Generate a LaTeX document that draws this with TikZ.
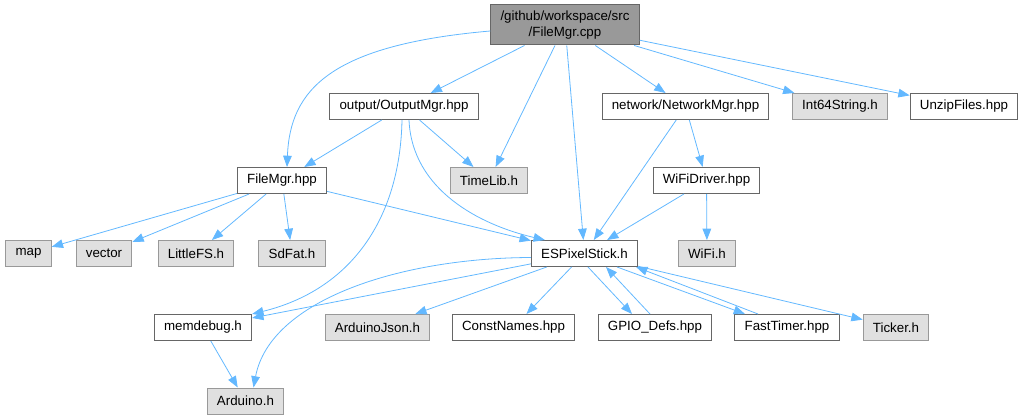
\documentclass[tikz,border=0pt]{standalone}
\usepackage{fontspec}
\setmainfont{Liberation Sans}
\usetikzlibrary{arrows.meta,calc}
\definecolor{edgeblue}{RGB}{99,184,255}
\definecolor{boxborder}{RGB}{102,102,102}
\definecolor{extborder}{RGB}{153,153,153}
\definecolor{extfill}{RGB}{224,224,224}
\definecolor{rootfill}{RGB}{153,153,153}

\begin{document}
\begin{tikzpicture}[x=0.75pt, y=-0.75pt,
    file/.style={draw=boxborder, fill=white, rectangle, line width=0.75pt, minimum height=19.5pt, inner xsep=7.3pt, inner ysep=0pt, font=\fontsize{10}{12}\selectfont},
    ext/.style={file, draw=extborder, fill=extfill},
    root/.style={file, fill=rootfill, align=center, minimum height=30pt},
    inc/.style={draw=edgeblue, line width=0.6pt, -{Triangle[length=8.5pt,width=6.5pt]}}]
    \useasboundingbox (0,0) rectangle (1023,420);

    % Root file
    \node[root] (root) at (565,25) {/github/workspace/src\\/FileMgr.cpp};

    % Second row
    \node[file] (outmgr) at (404,106.5) {output/OutputMgr.hpp};
    \node[file] (netmgr) at (685.5,106.5) {network/NetworkMgr.hpp};
    \node[ext] (int64) at (840,106.5) {Int64String.h};
    \node[file] (unzip) at (964,106.5) {UnzipFiles.hpp};

    % Third row
    \node[file] (filemgr) at (282,180.5) {FileMgr.hpp};
    \node[ext] (timelib) at (489,180.5) {TimeLib.h};
    \node[file] (wifidrv) at (706.5,180.5) {WiFiDriver.hpp};

    % Fourth row
    \node[ext] (map) at (28.5,253.5) {map};
    \node[ext] (vector) at (104,253.5) {vector};
    \node[ext] (littlefs) at (196,253.5) {LittleFS.h};
    \node[ext] (sdfat) at (292,253.5) {SdFat.h};
    \node[file] (esp) at (584.5,253.5) {ESPixelStick.h};
    \node[ext] (wifi) at (707,253.5) {WiFi.h};

    % Fifth row
    \node[file] (memdebug) at (203,327.5) {memdebug.h};
    \node[ext] (json) at (377.5,327.5) {ArduinoJson.h};
    \node[file] (constnames) at (513.5,327.5) {ConstNames.hpp};
    \node[file] (gpio) at (655,327.5) {GPIO\_Defs.hpp};
    \node[file] (fasttimer) at (787,327.5) {FastTimer.hpp};
    \node[ext] (ticker) at (896,327.5) {Ticker.h};

    % Bottom
    \node[ext] (arduino) at (245.5,401) {Arduino.h};

    % Includes of the root
    \draw[inc] ($(root.west)+(0,6)$) .. controls (330,45) and (290,90) .. ($(filemgr.north)+(5,0)$);
    \draw[inc] (root) -- (outmgr);
    \draw[inc] (root) -- (timelib);
    \draw[inc] (root) -- (esp);
    \draw[inc] (root) -- (netmgr);
    \draw[inc] (root) -- (int64);
    \draw[inc] (root) -- (unzip);

    % OutputMgr
    \draw[inc] (outmgr) -- (filemgr);
    \draw[inc] (outmgr) -- (timelib);
    \draw[inc] ($(outmgr.south)+(5,0)$) .. controls (412,190) and (480,225) .. ($(esp.north west)+(14,0)$);
    \draw[inc] ($(outmgr.south)+(-2,0)$) .. controls (400,220) and (350,290) .. (memdebug.north east);

    % FileMgr.hpp
    \draw[inc] (filemgr) -- (map);
    \draw[inc] (filemgr) -- (vector);
    \draw[inc] (filemgr) -- (littlefs);
    \draw[inc] (filemgr) -- (sdfat);
    \draw[inc] (filemgr) -- (esp);

    % Network
    \draw[inc] (netmgr) -- (esp);
    \draw[inc] (netmgr) -- (wifidrv);
    \draw[inc] (wifidrv) -- (esp);
    \draw[inc] (wifidrv) -- (wifi);

    % ESPixelStick.h
    \draw[inc] (esp) -- (memdebug);
    \draw[inc] ($(esp.west)+(0,4)$) .. controls (400,258) and (270,300) .. ($(arduino.north)+(8,0)$);
    \draw[inc] (esp) -- (json);
    \draw[inc] (esp) -- (constnames);
    \draw[inc] ($(esp.south)+(3.5,0)$) -- ($(gpio.north)+(-23,0)$);
    \draw[inc] ($(gpio.north)+(-5,0)$) -- ($(esp.south)+(21.5,0)$);
    \draw[inc] ($(esp.south)+(32.5,0)$) -- ($(fasttimer.north)+(-42,0)$);
    \draw[inc] ($(fasttimer.north)+(-29,0)$) -- ($(esp.south east)+(-2,0)$);
    \draw[inc] (esp) -- (ticker);

    % memdebug.h
    \draw[inc] (memdebug) -- (arduino);
\end{tikzpicture}
\end{document}
